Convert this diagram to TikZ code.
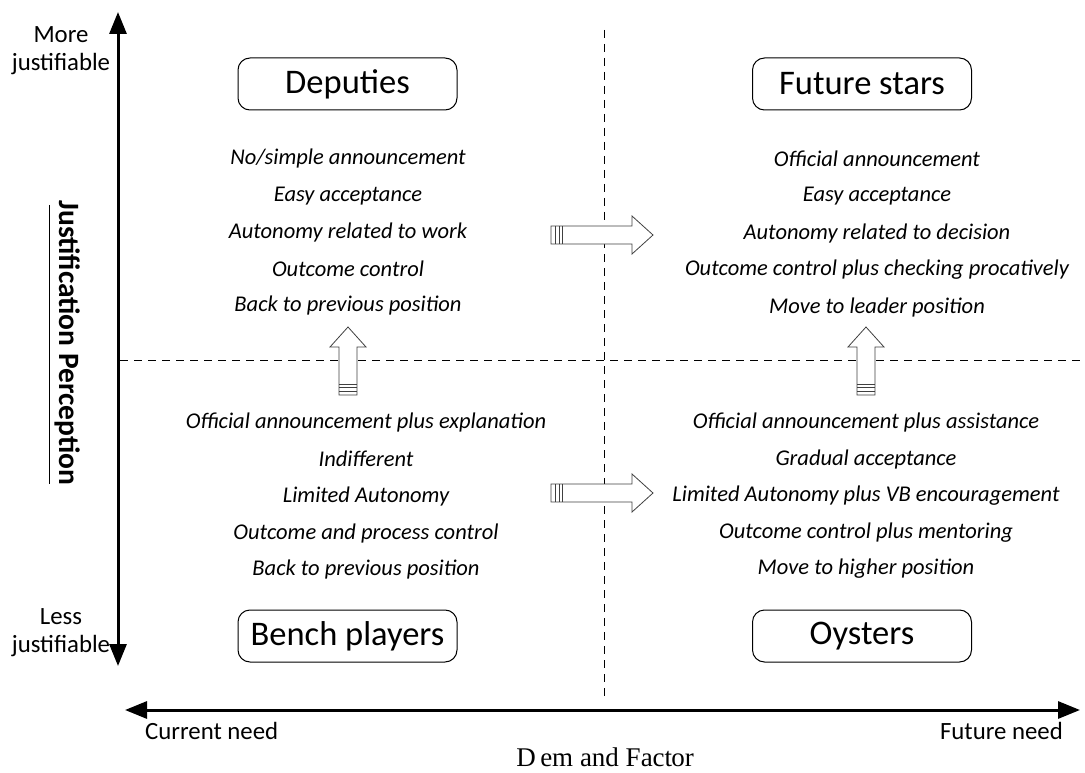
\documentclass[tikz,border=0pt]{standalone}
\usepackage{fontspec}
\setmainfont{Carlito}
\newfontfamily\demfont{Liberation Serif}
\usetikzlibrary{arrows.meta}
\tikzset{
  quad/.style={draw, rounded corners=12pt, line width=1pt, minimum width=219pt, minimum height=52pt, font=\fontsize{34.5}{36}\selectfont, inner sep=0pt},
  item/.style={font=\fontsize{22.5}{26}\selectfont\itshape, anchor=center, inner sep=0pt},
  axis/.style={line width=3pt, -{Triangle[length=22pt,width=17pt]}},
  axlab/.style={font=\fontsize{24.8}{28}\selectfont, align=center, inner sep=0pt},
  divider/.style={dashed, line width=0.8pt, dash pattern=on 8pt off 6pt},
  blk/.style={draw=black!75, fill=white, line width=0.8pt}
}
\newcommand{\rarrow}[2]{%
  \draw[blk] (#1,#2-9) -- (#1+81,#2-9) -- (#1+81,#2-19) -- (#1+102,#2) -- (#1+81,#2+19) -- (#1+81,#2+9) -- (#1,#2+9) -- cycle;
  \draw[black!75, line width=0.8pt] (#1+4,#2-9) -- (#1+4,#2+9) (#1+8,#2-9) -- (#1+8,#2+9) (#1+11,#2-9) -- (#1+11,#2+9);}
\newcommand{\uarrow}[2]{%
  \draw[blk] (#1-9,#2) -- (#1-9,#2-48) -- (#1-18,#2-48) -- (#1,#2-68) -- (#1+18,#2-48) -- (#1+9,#2-48) -- (#1+9,#2) -- cycle;
  \draw[black!75, line width=0.8pt] (#1-9,#2-4) -- (#1+9,#2-4) (#1-9,#2-8) -- (#1+9,#2-8) (#1-9,#2-11) -- (#1+9,#2-11);}
\begin{document}
\begin{tikzpicture}[x=1pt,y=-1pt]
\useasboundingbox (0,0) rectangle (1085,773);
% dividers
\coordinate (vt) at (604,30); \coordinate (vb) at (604,698);
\coordinate (hl) at (120,360); \coordinate (hr) at (1085,360);
\draw[divider] (vt) -- (vb);
\draw[divider] (hl) -- (hr);
% axes
\coordinate (ymid) at (118,340); \coordinate (ytop) at (118,12); \coordinate (ybot) at (118,666);
\draw[axis] (ymid) -- (ytop);
\draw[axis] (ymid) -- (ybot);
\coordinate (xmid) at (600,710); \coordinate (xl) at (125,710); \coordinate (xr) at (1080,710);
\draw[axis] (xmid) -- (xl);
\draw[axis] (xmid) -- (xr);
% axis labels
\node[axlab] (more) at (61,51) {More\\justifiable};
\node[axlab] (less) at (61,633) {Less\\justifiable};
\node[axlab, anchor=west] (cur) at (145,731) {Current need};
\node[axlab, anchor=east] (fut) at (1063,731) {Future need};
\node[font=\demfont\fontsize{27}{30}\selectfont, inner sep=0pt] (dem) at (605,757) {D\,em and Fact\kern-1pt or};
\node[font=\fontsize{29.5}{32}\selectfont\bfseries, rotate=-90, inner sep=0pt] (jp) at (68,343) {Justification Perception};
\coordinate (ul1) at (49,205); \coordinate (ul2) at (49,484);
\draw[line width=1pt] (ul1) -- (ul2);
% quadrant boxes
\node[quad] (dep) at (347.5,84) {Deputies};
\node[quad] (fs) at (862,84) {Future stars};
\node[quad] (bp) at (347.5,636) {Bench players};
\node[quad] (oy) at (862,636) {Oysters};
% items
\node[item] (a1) at (348,159) {No/simple announcement};
\node[item] (a2) at (348,196) {Easy acceptance};
\node[item] (a3) at (348,233) {Autonomy related to work};
\node[item] (a4) at (348,269) {Outcome control};
\node[item] (a5) at (348,306) {Back to previous position};
\node[item] (b1) at (877,159) {Official announcement};
\node[item] (b2) at (877,196) {Easy acceptance};
\node[item] (b3) at (877,234) {Autonomy related to decision};
\node[item] (b4) at (877,270) {Outcome control plus checking procatively};
\node[item] (b5) at (877,308) {Move to leader position};
\node[item] (c1) at (366,422) {Official announcement plus explanation};
\node[item] (c2) at (366,459) {Indifferent};
\node[item] (c3) at (366,496) {Limited Autonomy};
\node[item] (c4) at (366,533) {Outcome and process control};
\node[item] (c5) at (366,569) {Back to previous position};
\node[item] (d1) at (866,422) {Official announcement plus assistance};
\node[item] (d2) at (866,459) {Gradual acceptance};
\node[item] (d3) at (866,496) {Limited Autonomy plus VB encouragement};
\node[item] (d4) at (866,533) {Outcome control plus mentoring};
\node[item] (d5) at (866,569) {Move to higher position};
% block arrows
\rarrow{551}{235}
\rarrow{551}{493}
\uarrow{348}{395}
\uarrow{866}{395}
\end{tikzpicture}
\end{document}
